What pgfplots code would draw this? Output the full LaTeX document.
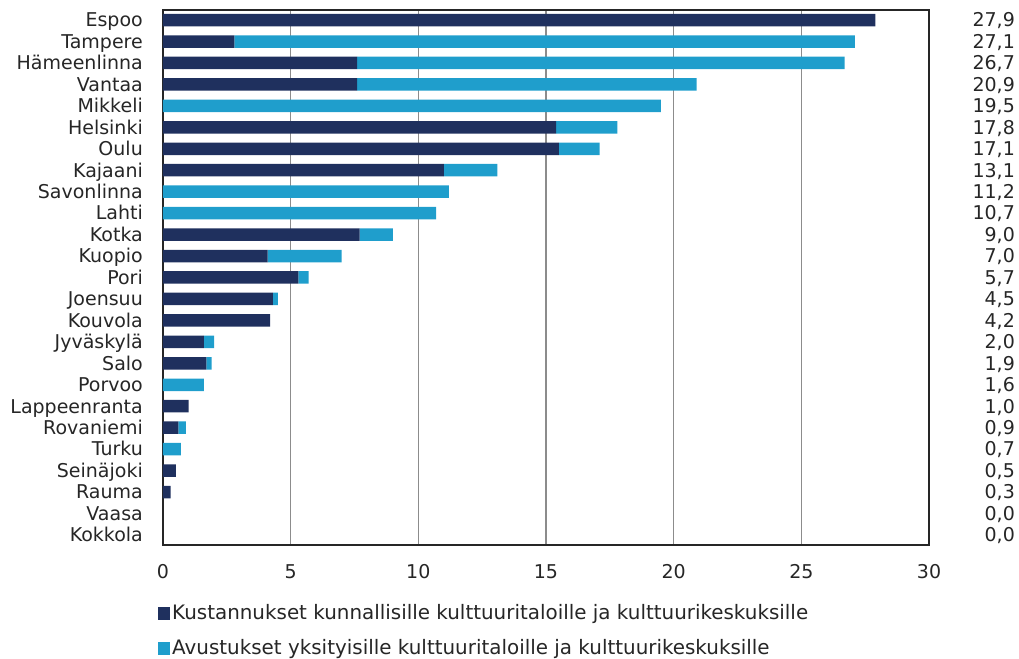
\documentclass[border=0pt]{standalone}
\usepackage{pgfplots}
\pgfplotsset{compat=1.18}
\usepackage{pgfplotstable}
\usepackage{fontspec}
\setmainfont{DejaVu Sans}
\definecolor{darkc}{RGB}{31,48,94}
\definecolor{lightc}{RGB}{31,158,204}
\definecolor{gridc}{RGB}{140,140,140}
\definecolor{txt}{RGB}{38,38,38}

\pgfplotstableread{
y dark light lab
24 27.9 0    27,9
23 2.8  24.3 27,1
22 7.6  19.1 26,7
21 7.6  13.3 20,9
20 0    19.5 19,5
19 15.4 2.4  17,8
18 15.5 1.6  17,1
17 11.0 2.1  13,1
16 0    11.2 11,2
15 0    10.7 10,7
14 7.7  1.3  9,0
13 4.1  2.9  7,0
12 5.3  0.4  5,7
11 4.3  0.2  4,5
10 4.2  0    4,2
9  1.6  0.4  2,0
8  1.7  0.2  1,9
7  0    1.6  1,6
6  1.0  0    1,0
5  0.6  0.3  0,9
4  0    0.7  0,7
3  0.5  0    0,5
2  0.3  0    0,3
1  0    0    0,0
0  0    0    0,0
}\data

\begin{document}
\fontsize{19}{22}\selectfont
\begin{tikzpicture}
\begin{axis}[
  at={(0,0)}, anchor=south west,
  scale only axis, width=766pt, height=535pt,
  xbar stacked, bar width=12.5pt,
  xmin=0, xmax=30, ymin=-0.47, ymax=24.47,
  xtick={0,5,...,30},
  ytick={0,...,24},
  yticklabels={Kokkola,Vaasa,Rauma,Seinäjoki,Turku,Rovaniemi,Lappeenranta,Porvoo,Salo,Jyväskylä,Kouvola,Joensuu,Pori,Kuopio,Kotka,Lahti,Savonlinna,Kajaani,Oulu,Helsinki,Mikkeli,Vantaa,Hämeenlinna,Tampere,Espoo},
  major tick length=0pt,
  tick style={draw=none},
  xmajorgrids, grid style={gridc, line width=1.2pt},
  axis line style={black!85, line width=1.3pt},
  every tick label/.append style={font=\fontsize{19}{22}\selectfont, text=txt},
  yticklabel style={anchor=base east, inner sep=0pt, xshift=-20pt, yshift=-6.8pt},
  xticklabel style={anchor=base, inner sep=0pt, yshift=-34pt},
  /pgf/number format/assume math mode=true,
]
\addplot[fill=darkc, draw=none] table[x=dark, y=y] {\data};
\addplot[fill=lightc, draw=none] table[x=light, y=y] {\data};
\end{axis}
\begin{axis}[
  at={(0,0)}, anchor=south west,
  scale only axis, width=766pt, height=535pt,
  xmin=0, xmax=30, ymin=-0.47, ymax=24.47,
  hide axis, clip=false,
  legend image code/.code={\fill[#1] (0pt,-6.5pt) rectangle (12pt,6.5pt);},
  legend style={draw=none, fill=none, at={(0,0)}, anchor=north west,
    xshift=-5pt, yshift=-57pt, inner sep=0pt, row sep=13pt,
    font=\fontsize{19.9}{23}\selectfont, text=txt,
    nodes={inner sep=2pt}},
  legend cell align=left,
]
\addplot[draw=none, mark=none, forget plot, nodes near coords,
  point meta=explicit symbolic,
  every node near coord/.append style={anchor=base east, inner sep=0pt, yshift=-6.8pt, text=txt, font=\fontsize{19}{22}\selectfont}]
  table[x expr=33.37, y=y, meta=lab] {\data};
\addlegendimage{fill=darkc, draw=none}
\addlegendentry{Kustannukset kunnallisille kulttuuritaloille ja kulttuurikeskuksille}
\addlegendimage{fill=lightc, draw=none}
\addlegendentry{Avustukset yksityisille kulttuuritaloille ja kulttuurikeskuksille}
\end{axis}
\pgfresetboundingbox
\path[use as bounding box] (-163pt,-113pt) rectangle (856pt,545pt);
\end{tikzpicture}
\end{document}
